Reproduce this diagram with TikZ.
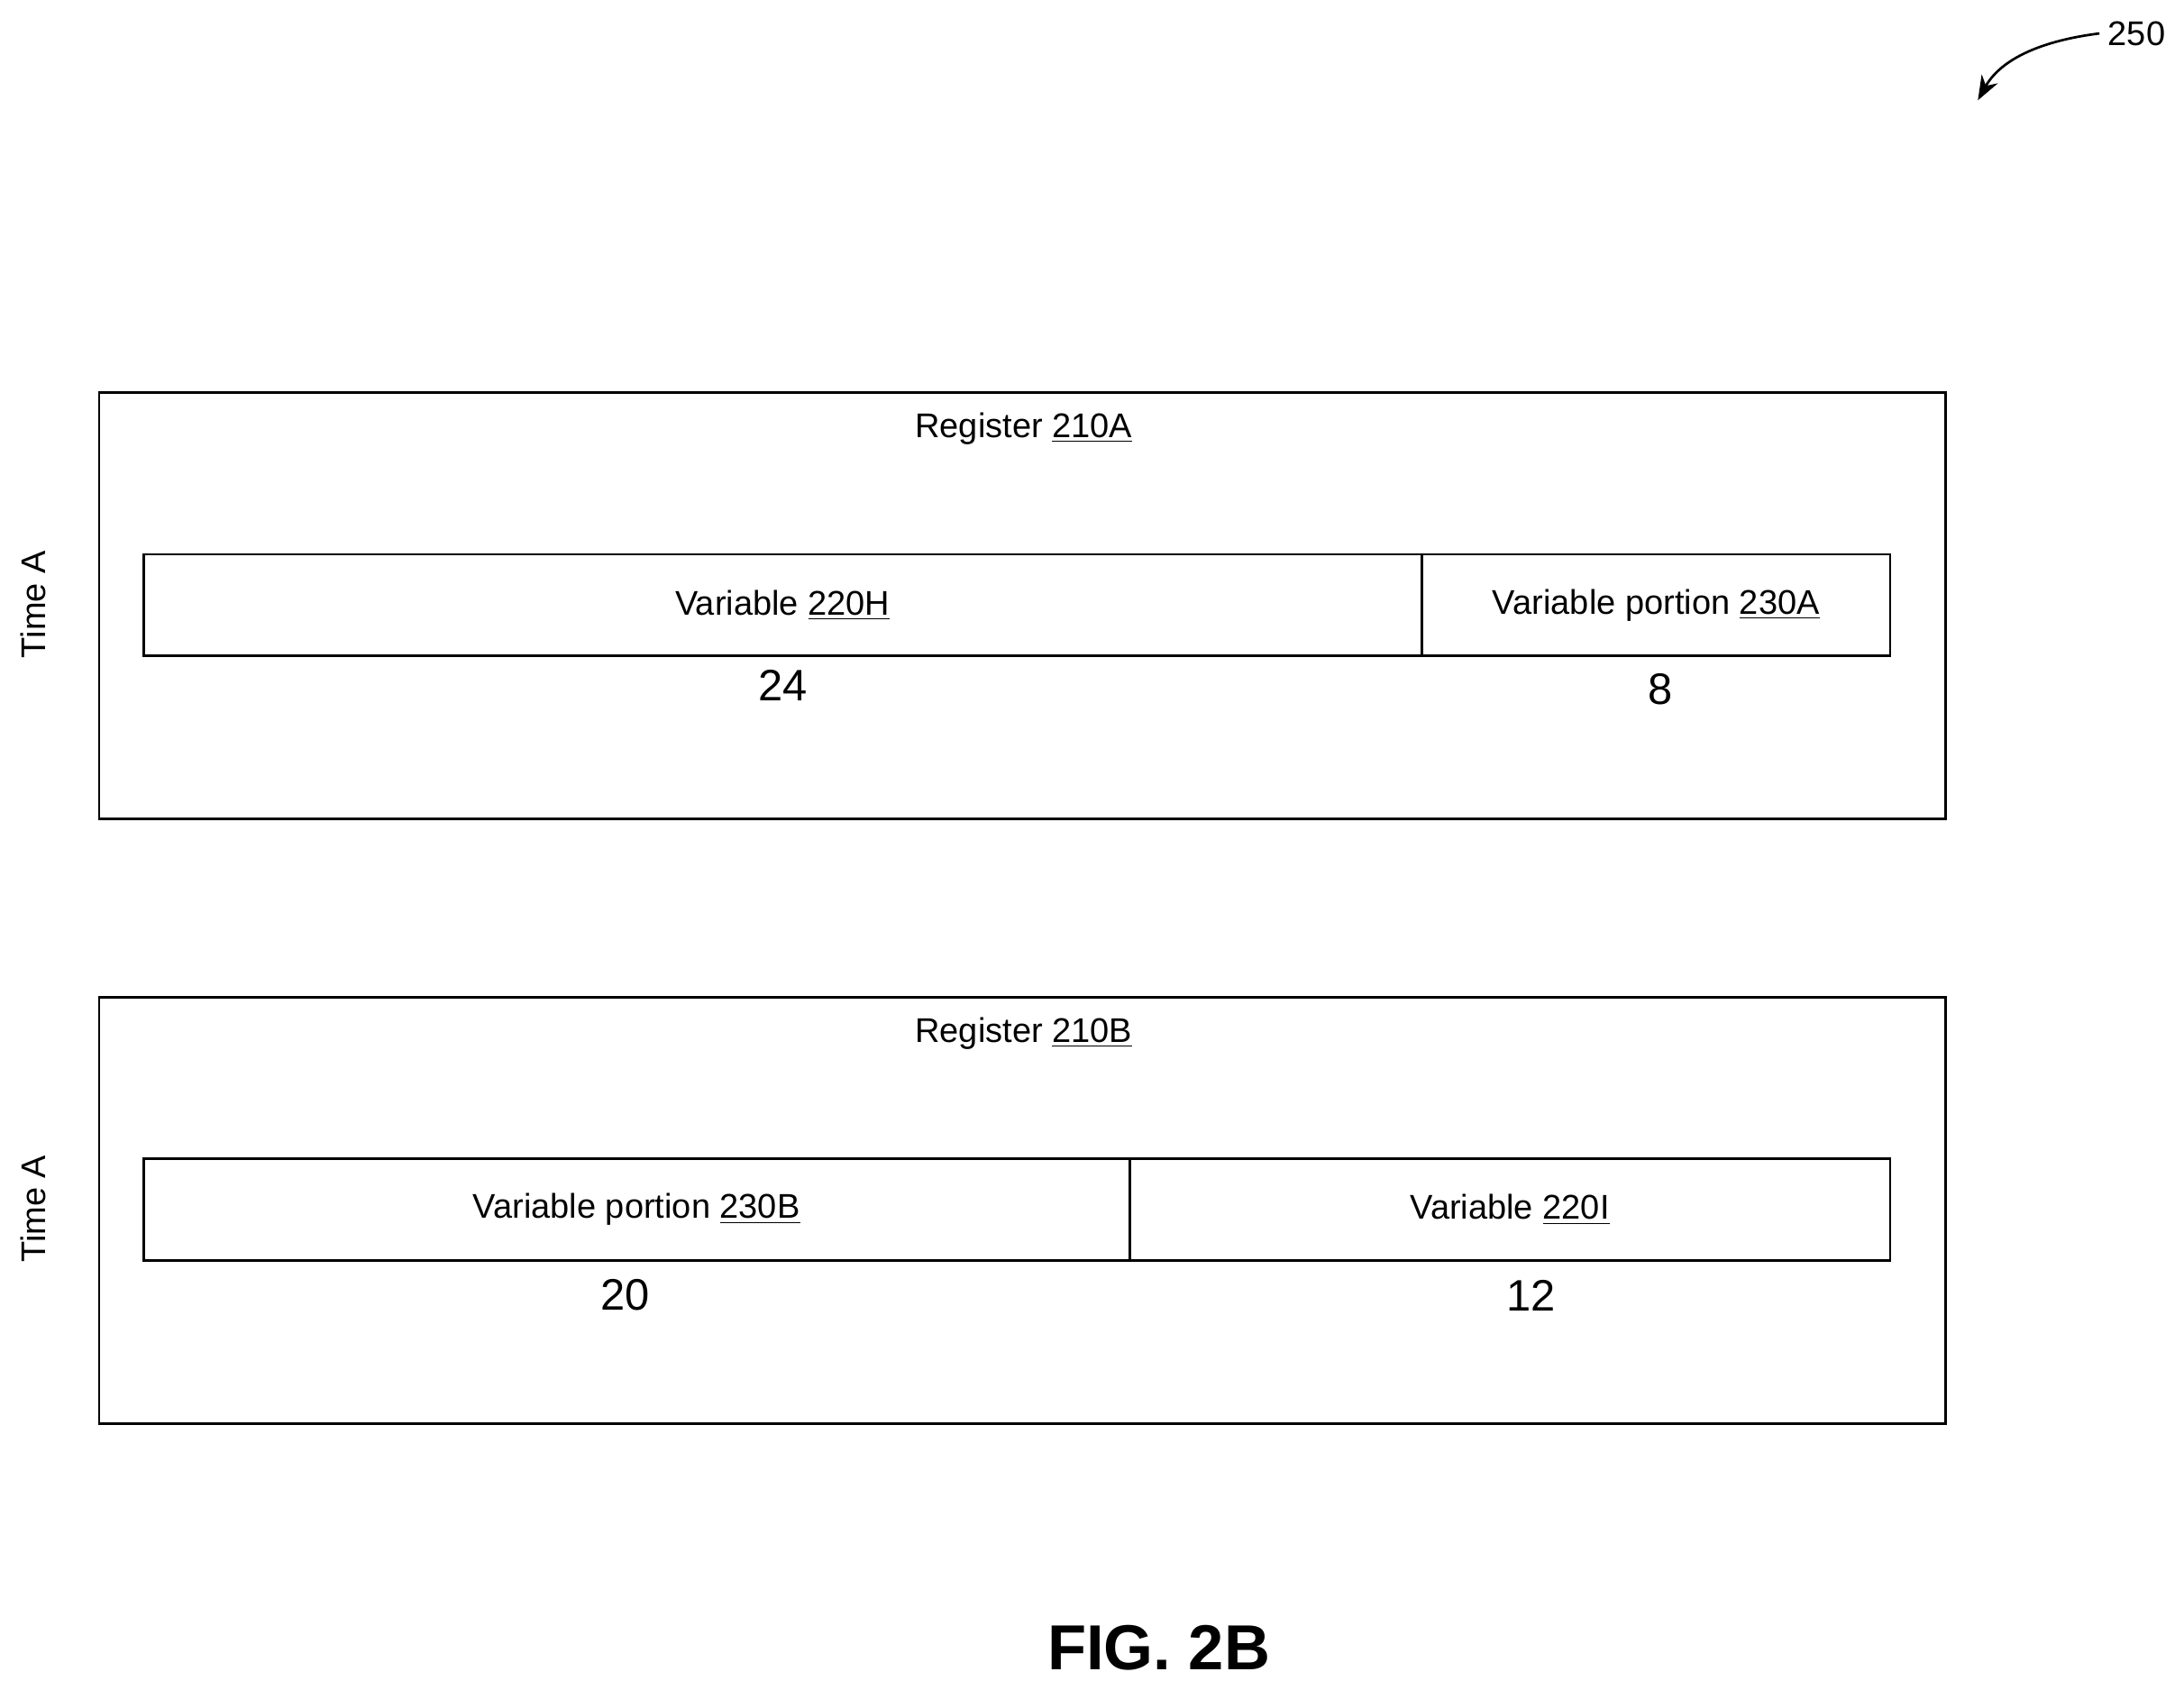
\documentclass[tikz,border=0pt]{standalone}
\usepackage{fontspec}
\setmainfont{Liberation Sans}
\usetikzlibrary{positioning,arrows.meta}
\tikzset{
  reg/.style={draw,line width=1pt,rectangle,inner sep=0pt,minimum width=26.52cm,minimum height=6.12cm},
  field/.style={draw,line width=1pt,rectangle,inner sep=0pt,minimum height=1.46cm,font=\fontsize{14}{16}\selectfont},
  lbl/.style={font=\fontsize{14}{16}\selectfont},
  num/.style={font=\fontsize{18}{20}\selectfont},
}
\begin{document}
\begin{tikzpicture}[x=0.02cm,y=-0.02cm]
  \useasboundingbox (0,0) rectangle (1568,1213);%

  % Time A
  \node[reg] (RA) at (734,435) {};%
  \node[lbl] (RAl) at (735,308) {Register \underline{210A}};%
  \node[field,minimum width=18.36cm] (VH) at (562,434.5) {Variable \underline{220H}};%
  \node[field,minimum width=6.72cm] (PA) at (1189,434.5) {Variable portion \underline{230A}};%
  \node[num] (nA1) at (562,492) {24};%
  \node[num] (nA2) at (1192,495) {8};%
  \node[lbl,rotate=90] (tA) at (24,434) {Time A};%

  % Time B
  \node[reg] (RB) at (734,869) {};%
  \node[lbl] (RBl) at (735,742) {Register \underline{210B}};%
  \node[field,minimum width=14.16cm] (PB) at (457,868.5) {Variable portion \underline{230B}};%
  \node[field,minimum width=10.92cm] (VI) at (1084,868.5) {Variable \underline{220I}};%
  \node[num] (nB1) at (449,930) {20};%
  \node[num] (nB2) at (1099,930) {12};%
  \node[lbl,rotate=90] (tB) at (24,868) {Time A};%

  \node[font=\bfseries\fontsize{26}{30}\selectfont] (fig) at (832,1183) {FIG. 2B};%
  \node[lbl] (ref) at (1534,24) {250};%
  \coordinate (arr) at (1420,72);%
  \draw[line width=1pt,-{Stealth[length=10pt]}] (ref.west) .. controls (1460,30) and (1435,45) .. (arr);%
\end{tikzpicture}
\end{document}
